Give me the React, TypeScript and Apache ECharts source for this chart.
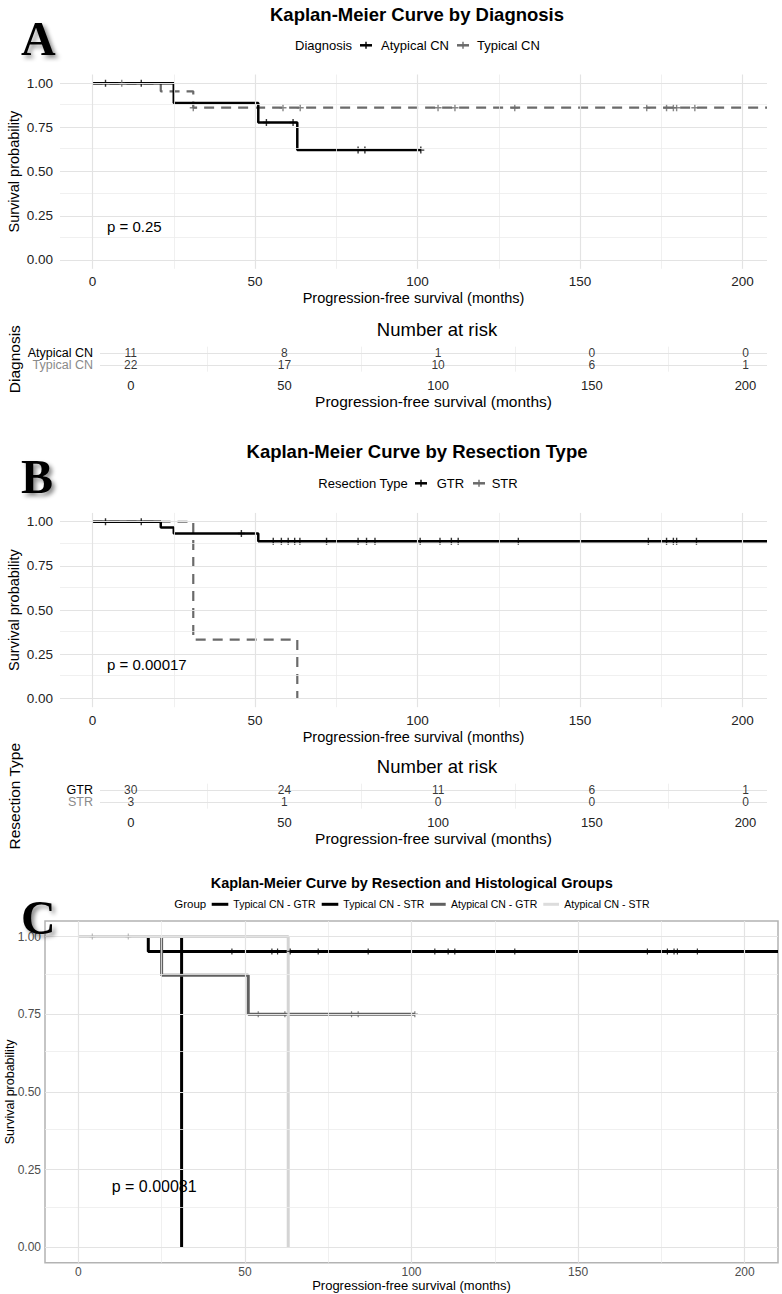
import React, { useEffect, useRef } from 'react';
import * as echarts from 'echarts';

const FONT = '"Liberation Sans", Arial, Helvetica, sans-serif';
const SERIF = '"Liberation Serif", "Times New Roman", serif';

// shared axis ticks
const timeTicks = [0, 50, 100, 150, 200];
const timeMinor = [25, 75, 125, 175];
const survTicks = [0, 0.25, 0.5, 0.75, 1];
const survMinor = [0.125, 0.375, 0.625, 0.875];

// ---------- Panel A : diagnosis ----------
const diagGroups = ['Atypical CN', 'Typical CN'];
const atypicalCurve = [[0, 1], [25, 0.889], [51, 0.778], [63, 0.622], [101, 0.622]];
const atypicalCensor = [[4, 1], [15, 1], [53.5, 0.778], [61.7, 0.778], [81.7, 0.622], [83.8, 0.622], [101, 0.622]];
const typicalCurve = [[0, 1], [21, 0.955], [31, 0.862], [207.5, 0.862]];
const typicalCensor = [[9, 1], [31, 0.862], [58.6, 0.862], [63.9, 0.862], [106.3, 0.862], [111.5, 0.862], [129.9, 0.862], [170.5, 0.862], [176.6, 0.862], [178.7, 0.862], [179.7, 0.862], [185.3, 0.862]];
const riskTimes = [0, 50, 100, 150, 200];
const atypicalRisk = [11, 8, 1, 0, 0];
const typicalRisk = [22, 17, 10, 6, 1];

// ---------- Panel B : resection type ----------
const resGroups = ['GTR', 'STR'];
const gtrCurve = [[0, 1], [21, 0.967], [25, 0.933], [51, 0.89], [207.5, 0.89]];
const gtrCensor = [[4, 1], [15, 1], [45.8, 0.933], [55.6, 0.89], [58.1, 0.89], [60.2, 0.89], [62.2, 0.89], [63.8, 0.89], [72, 0.89], [81.7, 0.89], [84.3, 0.89], [86.9, 0.89], [100.8, 0.89], [106.9, 0.89], [110.4, 0.89], [112.5, 0.89], [131, 0.89], [171, 0.89], [176.6, 0.89], [178.7, 0.89], [179.7, 0.89], [185.8, 0.89]];
const strCurve = [[0, 1], [31, 0.333], [63, 0]];
const gtrRisk = [30, 24, 11, 6, 1];
const strRisk = [3, 1, 0, 0, 0];

// ---------- Panel C : resection x histology ----------
const cGroups = ['Typical CN - GTR', 'Typical CN - STR', 'Atypical CN - GTR', 'Atypical CN - STR'];
const cColors = ['#000000', '#000000', '#606060', '#d4d4d4'];
const tGtrCurve = [[0, 1], [21, 0.952], [210, 0.952]];
const tGtrCensor = [[46.1, 0.952], [58.1, 0.952], [59.8, 0.952], [63.6, 0.952], [72, 0.952], [87, 0.952], [107, 0.952], [111, 0.952], [113, 0.952], [131, 0.952], [170.8, 0.952], [176.8, 0.952], [178.8, 0.952], [179.8, 0.952], [185.8, 0.952]];
const tStrCurve = [[0, 1], [31, 0]];
const aGtrCurve = [[0, 1], [25, 0.875], [51, 0.75], [101, 0.75]];
const aGtrCensor = [[54, 0.75], [62, 0.75], [82, 0.75], [84, 0.75], [101, 0.75]];
const aStrCurve = [[0, 1], [63, 0]];
const aStrCensor = [[4.2, 1], [15, 1]];

const PLUS = 'path://M4,0h2v4h4v2h-4v4h-2v-4h-4v-2h4z';

function stepLine(name: string, data: number[][], gi: number, color: string, width: number, dashed: boolean, z = 3) {
  return {
    type: 'line', name, xAxisIndex: gi, yAxisIndex: gi, data, step: 'end',
    showSymbol: false, symbol: 'none', silent: true, z,
    lineStyle: { color, width, type: dashed ? [10, 7] : 'solid' },
    itemStyle: { color },
  };
}
function censor(name: string, data: number[][], gi: number, color: string, size: number, z = 4) {
  return {
    type: 'scatter', name, xAxisIndex: gi, yAxisIndex: gi, data,
    symbol: PLUS, symbolSize: size, silent: true, z, itemStyle: { color },
  };
}
const MAJOR = { color: '#e3e3e3', width: 1.2, type: 'solid' };
const MINOR = { color: '#ececec', width: 0.8, type: 'solid' };
function gridLines(gi: number, xMaj: number[], xMin: number[], yMaj: number[], yMin: number[]) {
  const data = [
    ...xMin.map((v) => ({ xAxis: v, lineStyle: MINOR })),
    ...yMin.map((v) => ({ yAxis: v, lineStyle: MINOR })),
    ...xMaj.map((v) => ({ xAxis: v, lineStyle: MAJOR })),
    ...yMaj.map((v) => ({ yAxis: v, lineStyle: MAJOR })),
  ];
  return {
    type: 'line', xAxisIndex: gi, yAxisIndex: gi, data: [], silent: true, z: 1,
    markLine: { silent: true, symbol: ['none', 'none'], label: { show: false }, lineStyle: { type: 'solid' }, data },
  };
}
function riskSeries(gi: number, rows: number[][]) {
  const data: number[][] = [];
  rows.forEach((vals, r) => vals.forEach((n, i) => data.push([riskTimes[i], r, n])));
  return {
    type: 'scatter', xAxisIndex: gi, yAxisIndex: gi, data, symbolSize: 1, silent: true, z: 5,
    itemStyle: { color: 'rgba(0,0,0,0)' },
    label: { show: true, position: 'inside', formatter: (p: any) => String(p.value[2]), fontSize: 12, color: '#000', fontFamily: FONT },
  };
}

function mainX(gi: number, max: number, opts: any = {}) {
  return {
    type: 'value', gridIndex: gi, min: -10, max,
    axisLine: { show: false },
    axisTick: { show: true, customValues: timeTicks, length: 3.5, lineStyle: { color: '#333', width: 1 } },
    axisLabel: { customValues: timeTicks, margin: 6, fontSize: 13.5, color: '#222', fontFamily: FONT },
    splitLine: { show: false },
    name: 'Progression-free survival (months)', nameLocation: 'middle', nameGap: 22, nameMoveOverlap: false,
    nameTextStyle: { fontSize: 14.5, color: '#000', fontFamily: FONT },
    ...opts,
  };
}
function mainY(gi: number, opts: any = {}) {
  return {
    type: 'value', gridIndex: gi, min: -0.05, max: 1.05,
    axisLine: { show: false },
    axisTick: { show: true, customValues: survTicks, length: 3.5, lineStyle: { color: '#333', width: 1 } },
    axisLabel: { customValues: survTicks, formatter: (v: number) => v.toFixed(2), margin: 7, fontSize: 13.5, color: '#222', fontFamily: FONT },
    splitLine: { show: false },
    name: 'Survival probability', nameLocation: 'middle', nameGap: 39, nameMoveOverlap: false,
    nameTextStyle: { fontSize: 14.5, color: '#000', fontFamily: FONT },
    ...opts,
  };
}
function riskX(gi: number) {
  return {
    type: 'value', gridIndex: gi, min: -10, max: 207,
    axisLine: { show: false }, axisTick: { show: false },
    axisLabel: { customValues: riskTimes, margin: 7, fontSize: 13, color: '#222', fontFamily: FONT },
    splitLine: { show: false },
    name: 'Progression-free survival (months)', nameLocation: 'middle', nameGap: 22, nameMoveOverlap: false,
    nameTextStyle: { fontSize: 15.5, color: '#000', fontFamily: FONT },
  };
}
function riskY(gi: number, cats: string[], title: string) {
  return {
    type: 'category', gridIndex: gi, data: cats, inverse: true,
    axisLine: { show: false }, axisTick: { show: false }, splitLine: { show: false },
    axisLabel: {
      interval: 0, hideOverlap: false, fontSize: 12.5, margin: 7, fontFamily: FONT,
      color: (v: string) => (v === cats[0] ? '#000' : '#8a8a8a'),
    },
    name: title, nameLocation: 'middle', nameGap: 78, nameMoveOverlap: false,
    nameTextStyle: { fontSize: 15.5, color: '#000', fontFamily: FONT },
  };
}

function txt(text: string, x: number, y: number, size: number, opts: any = {}) {
  const align = opts.align || 'left';
  return {
    type: 'text', x, y, z: opts.z ?? 10,
    style: {
      text, fill: opts.color || '#000',
      font: `${opts.weight || 'normal'} ${size}px ${opts.family || FONT}`,
      align, textAlign: align, verticalAlign: 'middle', textVerticalAlign: 'middle',
      ...(opts.style || {}),
    },
  };
}
function seg(x1: number, y1: number, x2: number, y2: number, color: string, w: number) {
  return { type: 'line', z: 10, shape: { x1, y1, x2, y2 }, style: { stroke: color, lineWidth: w } };
}
function kmKey(cx: number, cy: number, color: string) {
  return [seg(cx - 6, cy, cx + 6, cy, color, 2.5), seg(cx, cy - 3.5, cx, cy + 3.5, color, 1.4)];
}
function letter(ch: string, x: number, y: number) {
  return txt(ch, x, y, 48, {
    weight: 'bold', family: SERIF, z: 20,
    style: { textShadowColor: 'rgba(0,0,0,0.45)', textShadowBlur: 4, textShadowOffsetX: 3, textShadowOffsetY: 3 },
  });
}

export default function App() {
  const ref = useRef<HTMLDivElement>(null);
  useEffect(() => {
    if (!ref.current) return;
    const chart = echarts.init(ref.current, null, { renderer: 'svg' });
    const GRAY = '#6a6a6a';
    const option: any = {
      animation: false,
      textStyle: { fontFamily: FONT },
      grid: [
        { left: 60, top: 74.5, width: 707, height: 194.3, outerBoundsMode: 'none' },
        { left: 100, top: 346.7, width: 667, height: 25, outerBoundsMode: 'none' },
        { left: 60, top: 512.9, width: 707, height: 194.3, outerBoundsMode: 'none' },
        { left: 100, top: 783.7, width: 667, height: 25, outerBoundsMode: 'none' },
        { left: 45, top: 921, width: 733, height: 341.7, show: true, borderColor: '#b3b3b3', borderWidth: 1.5, backgroundColor: 'transparent', outerBoundsMode: 'none' },
      ],
      xAxis: [
        mainX(0, 207.5),
        riskX(1),
        mainX(2, 207.5),
        riskX(3),
        mainX(4, 210, {
          axisTick: { show: true, customValues: timeTicks, length: 3, lineStyle: { color: '#555', width: 1 } },
          axisLabel: { customValues: timeTicks, margin: 3, fontSize: 12, color: '#4d4d4d', fontFamily: FONT },
          nameGap: 16, nameTextStyle: { fontSize: 13, color: '#000', fontFamily: FONT },
        }),
      ],
      yAxis: [
        mainY(0),
        riskY(1, diagGroups, 'Diagnosis'),
        mainY(2),
        riskY(3, resGroups, 'Resection Type'),
        mainY(4, {
          axisTick: { show: true, customValues: survTicks, length: 3, lineStyle: { color: '#555', width: 1 } },
          axisLabel: { customValues: survTicks, formatter: (v: number) => v.toFixed(2), margin: 4, fontSize: 12, color: '#4d4d4d', fontFamily: FONT },
          nameGap: 29, nameTextStyle: { fontSize: 12.5, color: '#000', fontFamily: FONT },
        }),
      ],
      series: [
        // A
        gridLines(0, timeTicks, timeMinor, survTicks, survMinor),
        stepLine('Typical CN', typicalCurve, 0, GRAY, 2.2, true),
        stepLine('Atypical CN', atypicalCurve, 0, '#000', 2.5, false),
        censor('Typical CN', typicalCensor, 0, GRAY, 7),
        censor('Atypical CN', atypicalCensor, 0, '#000', 7),
        gridLines(1, [], timeMinor, [0, 1], []),
        riskSeries(1, [atypicalRisk, typicalRisk]),
        // B
        gridLines(2, timeTicks, timeMinor, survTicks, survMinor),
        stepLine('STR', strCurve, 2, GRAY, 2.2, true),
        stepLine('GTR', gtrCurve, 2, '#000', 2.5, false),
        censor('GTR', gtrCensor, 2, '#000', 7),
        gridLines(3, [], timeMinor, [0, 1], []),
        riskSeries(3, [gtrRisk, strRisk]),
        // C
        gridLines(4, timeTicks, timeMinor, survTicks, survMinor),
        stepLine(cGroups[0], tGtrCurve, 4, cColors[0], 3, false, 3),
        stepLine(cGroups[1], tStrCurve, 4, cColors[1], 3, false, 3),
        stepLine(cGroups[2], aGtrCurve, 4, cColors[2], 3, false, 3),
        stepLine(cGroups[3], aStrCurve, 4, cColors[3], 3, false, 3),
        censor(cGroups[0], tGtrCensor, 4, cColors[0], 6),
        censor(cGroups[2], aGtrCensor, 4, cColors[2], 6),
        censor(cGroups[3], aStrCensor, 4, '#aaaaaa', 6),
      ],
      graphic: [
        // Panel A
        letter('A', 21, 38),
        txt('Kaplan-Meier Curve by Diagnosis', 417, 14, 18.5, { weight: 'bold', align: 'center' }),
        txt('Diagnosis', 295, 45.3, 13),
        ...kmKey(366, 45.3, '#000'),
        txt('Atypical CN', 381, 45.3, 13),
        ...kmKey(463, 45.3, GRAY),
        txt('Typical CN', 477, 45.3, 13),
        txt('p = 0.25', 107, 226, 15),
        txt('Number at risk', 437, 329, 18.5, { align: 'center' }),
        // Panel B
        letter('B', 21, 476),
        txt('Kaplan-Meier Curve by Resection Type', 417, 451.7, 18.5, { weight: 'bold', align: 'center' }),
        txt('Resection Type', 318.3, 483.3, 13),
        ...kmKey(421, 483.3, '#000'),
        txt('GTR', 436.7, 483.3, 13),
        ...kmKey(479, 483.3, GRAY),
        txt('STR', 491.7, 483.3, 13),
        txt('p = 0.00017', 107, 664.3, 15),
        txt('Number at risk', 437, 766, 18.5, { align: 'center' }),
        // Panel C
        letter('C', 21, 917),
        txt('Kaplan-Meier Curve by Resection and Histological Groups', 411.7, 883.3, 14.5, { weight: 'bold', align: 'center' }),
        txt('Group', 174.3, 904.3, 11.5),
        seg(211.7, 904.3, 228.3, 904.3, cColors[0], 3),
        txt(cGroups[0], 233.3, 904.3, 10.5),
        seg(321.7, 904.3, 338.3, 904.3, cColors[1], 3),
        txt(cGroups[1], 343.3, 904.3, 10.5),
        seg(430, 904.3, 445.7, 904.3, cColors[2], 3),
        txt(cGroups[2], 451, 904.3, 10.5),
        seg(543.3, 904.3, 559, 904.3, '#dcdcdc', 3),
        txt(cGroups[3], 564.3, 904.3, 10.5),
        txt('p = 0.00081', 111.7, 1186.7, 16, { z: 2 }),
      ],
    };
    chart.setOption(option);
    return () => chart.dispose();
  }, []);
  return <div ref={ref} style={{ position: 'absolute', left: 0, top: 0, width: 782, height: 1294 }} />;
}
